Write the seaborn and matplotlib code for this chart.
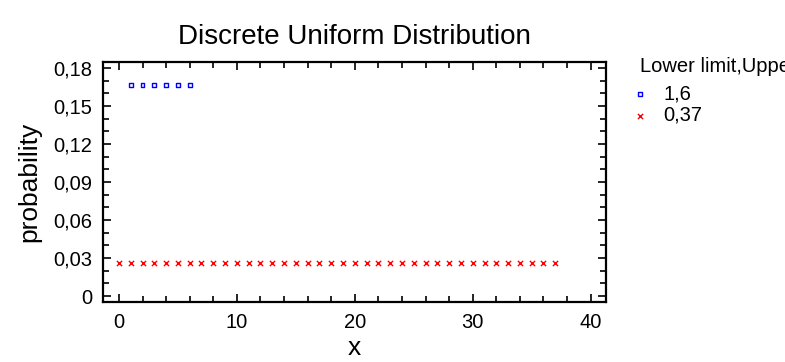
import matplotlib
matplotlib.use("Agg")
import matplotlib.pyplot as plt
import seaborn as sns
import pandas as pd
from matplotlib.ticker import MultipleLocator, FuncFormatter

# Data
x_a = [1, 2, 3, 4, 5, 6]
p_a = [0.1667, 0.1667, 0.1667, 0.1667, 0.1667, 0.1667]
x_b = list(range(0, 38))
p_b = [0.0263, 0.0263, 0.0263, 0.0263, 0.0263, 0.0263, 0.0263, 0.0263,
       0.0263, 0.0263, 0.0263, 0.0263, 0.0263, 0.0263, 0.0263, 0.0263,
       0.0263, 0.0263, 0.0263, 0.0263, 0.0263, 0.0263, 0.0263, 0.0263,
       0.0263, 0.0263, 0.0263, 0.0263, 0.0263, 0.0263, 0.0263, 0.0263,
       0.0263, 0.0263, 0.0263, 0.0263, 0.0263, 0.0263]
labels = ["1,6", "0,37"]
legend_title = "Lower limit,Upper limit"
title = "Discrete Uniform Distribution"
y_ticks = [0, 0.03, 0.06, 0.09, 0.12, 0.15, 0.18]
x_ticks = [0, 10, 20, 30, 40]

sns.set_theme(style="white")
plt.rcParams['font.family'] = ['Liberation Sans', 'DejaVu Sans']
plt.rcParams['text.color'] = 'black'
plt.rcParams['axes.labelcolor'] = 'black'
plt.rcParams['xtick.color'] = 'black'
plt.rcParams['ytick.color'] = 'black'

fig = plt.figure(figsize=(7.85, 3.62), dpi=100)
ax = fig.add_axes([103/785, 1 - 302/362, (606-103)/785, (302-62)/362])

df_a = pd.DataFrame({"x": x_a, "p": p_a})
df_b = pd.DataFrame({"x": x_b, "p": p_b})
sns.scatterplot(data=df_a, x="x", y="p", ax=ax, marker="s", s=8,
                facecolor="none", edgecolor="#0000ff", linewidth=1.0, label=labels[0])
sns.scatterplot(data=df_b, x="x", y="p", ax=ax, marker="x", s=14,
                color="#ff0000", linewidth=1.0, label=labels[1])

ax.set_xlim(-1.35, 41.3)
ax.set_ylim(-0.0047, 0.1847)
ax.set_xticks(x_ticks)
ax.set_yticks(y_ticks)
ax.xaxis.set_minor_locator(MultipleLocator(2))
ax.yaxis.set_minor_locator(MultipleLocator(0.01))
ax.yaxis.set_major_formatter(FuncFormatter(lambda v, pos: f"{v:g}".replace('.', ',')))
ax.tick_params(which="both", direction="in", top=True, right=True, bottom=True, left=True,
               color="black", labelcolor="black", labelsize=14.5, width=1.2)
ax.tick_params(which="major", length=6, pad=8)
ax.tick_params(which="minor", length=4)
for sp in ax.spines.values():
    sp.set_linewidth(1.6)
    sp.set_color("black")

ax.set_title(title, fontsize=20, pad=13, color="black")
ax.set_xlabel("x", fontsize=19, labelpad=3)
ax.set_ylabel("probability", fontsize=19, labelpad=8)

leg = ax.legend(title=legend_title, loc="upper left", bbox_to_anchor=(632/785, 1 - 49/362),
                bbox_transform=fig.transFigure, frameon=False, fontsize=14.5,
                title_fontsize=14.5, handletextpad=1.14, borderaxespad=0,
                labelspacing=0.12, handlelength=0.0, markerscale=1.0)
leg._legend_box.align = "left"
leg._legend_box.sep = 6

fig.savefig("out.png", dpi=100)
